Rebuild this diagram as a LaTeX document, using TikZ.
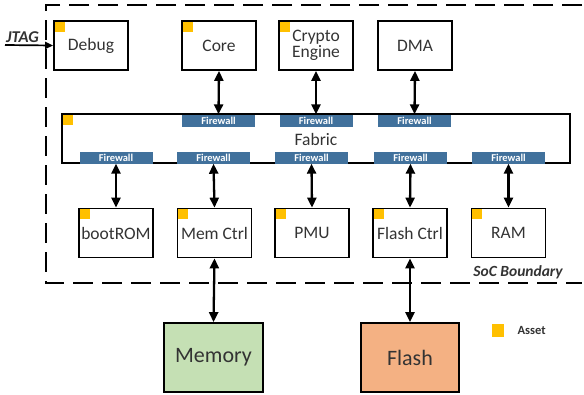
\documentclass[tikz,border=0pt]{standalone}
\usepackage{fontspec}
\setmainfont{Carlito}
\usetikzlibrary{arrows.meta}
\definecolor{fw}{HTML}{41719C}
\definecolor{assetc}{HTML}{FFC000}
\definecolor{memc}{HTML}{C5E0B4}
\definecolor{flc}{HTML}{F4B183}
\definecolor{txt}{HTML}{333333}
\begin{document}
\begin{tikzpicture}[x=1pt,y=-1pt,
  blk/.style={draw, line width=1.7pt, minimum width=74pt, minimum height=49pt, inner sep=0pt, align=center, text=txt, font=\fontsize{17.5}{19}\selectfont},
  fwbar/.style={fill=fw, minimum width=73pt, minimum height=12pt, inner sep=0pt, text=white, font=\bfseries\fontsize{10.5}{11}\selectfont},
  link/.style={line width=2.3pt, {Triangle[length=10pt,width=9pt]}-{Triangle[length=10pt,width=9pt]}},
  boundary/.style={line width=2.8pt, dash pattern=on 20pt off 9pt},
  assetsq/.style={fill=assetc}]
\useasboundingbox (0,0) rectangle (584,394);

% SoC boundary
\draw[boundary] (582,5) -- (46,5) -- (46,283) -- (582,283);
\node[anchor=south east, inner sep=1pt, font=\bfseries\itshape\fontsize{15.5}{17}\selectfont, text=txt] (soc) at (564,280) {SoC Boundary};

% top blocks
\node[blk] (deb) at (91,45.5) {Debug};
\node[blk] (core) at (219,45.5) {Core};
\node[blk] (cry) at (316,45.5) {Crypto\\[-3pt]Engine};
\node[blk] (dma) at (415,45.5) {DMA};

% fabric
\node[blk, minimum width=508pt, minimum height=49pt] (fab) at (316,138.5) {};
\node[text=txt, font=\fontsize{17.5}{19}\selectfont] (fabt) at (316,139) {Fabric};
\node[fwbar] (ft1) at (218.5,120.5) {Firewall};
\node[fwbar] (ft2) at (316,120.5) {Firewall};
\node[fwbar] (ft3) at (414.5,120.5) {Firewall};
\node[fwbar] (fb1) at (116,157.5) {Firewall};
\node[fwbar] (fb2) at (213.5,157.5) {Firewall};
\node[fwbar] (fb3) at (311.5,157.5) {Firewall};
\node[fwbar] (fb4) at (410.5,157.5) {Firewall};
\node[fwbar] (fb5) at (508.5,157.5) {Firewall};

% bottom blocks
\node[blk] (boot) at (116,233) {bootROM};
\node[blk] (mem) at (214.5,233) {Mem Ctrl};
\node[blk] (pmu) at (312,233) {PMU};
\node[blk] (fctl) at (410,233) {Flash Ctrl};
\node[blk] (ram) at (508.5,233) {RAM};

% external
\node[blk, fill=memc, minimum width=99pt, minimum height=69pt, font=\fontsize{22}{24}\selectfont] (memory) at (213.5,357.5) {Memory};
\node[blk, fill=flc, minimum width=98pt, minimum height=69pt, font=\fontsize{22}{24}\selectfont] (flash) at (410,357.5) {Flash};

% asset markers
\foreach \n in {deb,core,cry,boot,mem,pmu,fctl,ram}
  \fill[assetsq] ([shift={(1.5,1.5)}]\n.north west) rectangle ++(10,10);
\fill[assetsq] ([shift={(1.5,1.5)}]fab.north west) rectangle ++(10,10);

% legend
\fill[assetsq] (492,324) rectangle (504,337);
\node[anchor=west, text=txt, font=\bfseries\fontsize{12.5}{14}\selectfont] (leg) at (514,330.5) {Asset};

% links
\draw[link] (core.south) -- (ft1.north);
\draw[link] (cry.south) -- (ft2.north);
\draw[link] (dma.south) -- (ft3.north);
\draw[link] (fb1.south) -- (boot.north);
\draw[link] (fb2.south) -- (mem.north);
\draw[link] (fb3.south) -- (pmu.north);
\draw[link] (fb4.south) -- (fctl.north);
\draw[link] (fb5.south) -- (ram.north);
\draw[link] (mem.south) -- (memory.north);
\draw[link] (fctl.south) -- (flash.north);

% JTAG
\coordinate (jin) at (5,45);
\node[anchor=south west, inner sep=0pt, text=txt, font=\bfseries\itshape\fontsize{16.5}{18}\selectfont] (jtag) at (6,42.5) {JTAG};
\draw[line width=1.7pt, -{Triangle[length=8pt,width=7pt]}] (jin) -- (deb.west);
\end{tikzpicture}
\end{document}
